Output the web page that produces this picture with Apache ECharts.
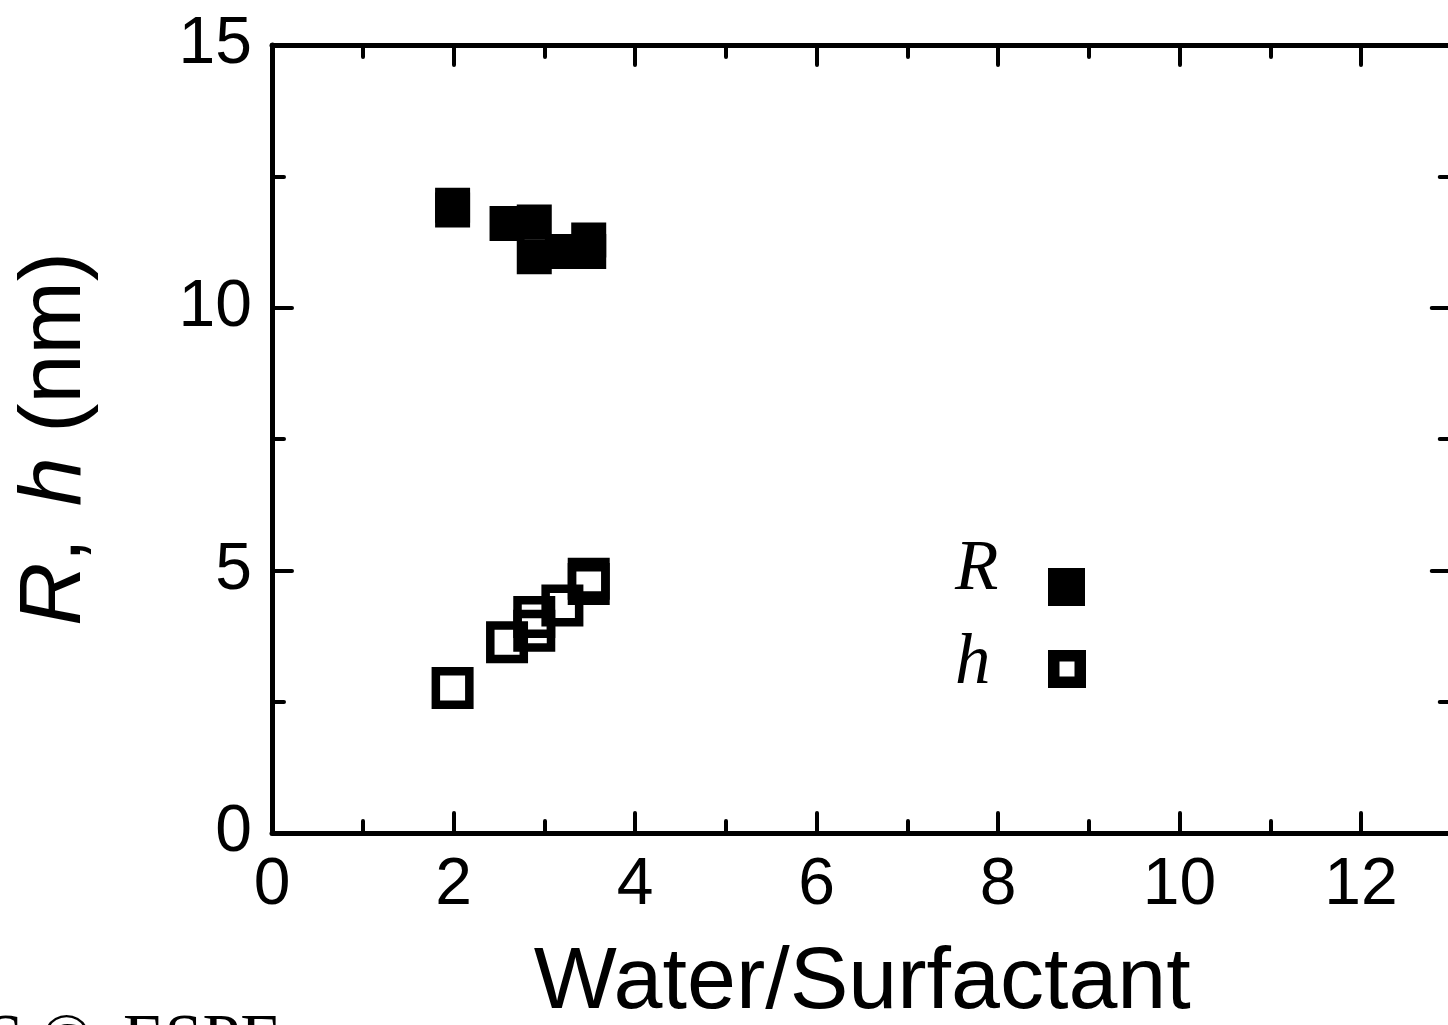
<!DOCTYPE html>
<html>
<head>
<meta charset="utf-8">
<script src="https://cdn.jsdelivr.net/npm/echarts@6/dist/echarts.min.js"></script>
<style>
html,body{margin:0;padding:0;background:#fff;}
#chart{width:1448px;height:1025px;}
</style>
</head>
<body>
<div id="chart"></div>
<script>
// Data
const xTicks = [0, 2, 4, 6, 8, 10, 12];
const yTicks = [0, 5, 10, 15];
const seriesNames = ['R', 'h'];
const R_data = [
  [1.99, 11.95], [1.99, 11.86], [2.59, 11.60], [2.89, 11.63],
  [2.89, 10.97], [3.20, 11.07], [3.49, 11.29], [3.49, 11.07]
];
const h_data = [
  [1.99, 2.76], [2.59, 3.63], [2.89, 4.11], [2.89, 3.85],
  [3.20, 4.33], [3.49, 4.84], [3.49, 4.74]
];
const xTitle = 'Water/Surfactant';
const footText = 'S \u00A9\u2009 ESPE';

const chart = echarts.init(document.getElementById('chart'), null, {renderer: 'canvas'});
const SANS = 'Liberation Sans, Arial, sans-serif';
const SERIF = 'Liberation Serif, Times New Roman, serif';

function axisCommon(showLabel) {
  return {
    axisLine: {show: true, onZero: false, lineStyle: {color: '#000', width: 5}},
    axisTick: {show: true, inside: true, length: 20, lineStyle: {color: '#000', width: 4, cap: 'round'}},
    minorTick: {show: true, splitNumber: 2, length: 12, lineStyle: {color: '#000', width: 4, cap: 'round'}},
    splitLine: {show: false},
    minorSplitLine: {show: false},
    axisLabel: {show: showLabel, color: '#000', fontSize: 66, fontFamily: SANS, margin: 20,
      formatter: function (v) { return xTicks.indexOf(v) >= 0 || yTicks.indexOf(v) >= 0 ? String(v) : ''; }}
  };
}

const option = {
  backgroundColor: '#fff',
  animation: false,
  grid: {left: 272, top: 45, width: 1270.5, height: 788, containLabel: false, outerBoundsMode: 'none'},
  xAxis: [
    Object.assign(axisCommon(true), {
      type: 'value', position: 'bottom', min: 0, max: 14, interval: 2,
      name: xTitle, nameLocation: 'middle', nameGap: 107,
      nameTextStyle: {fontSize: 88, fontFamily: SANS, color: '#000', padding: [0, 90, 0, 0]}
    }),
    Object.assign(axisCommon(false), {
      type: 'value', position: 'top', min: 0, max: 14, interval: 2
    })
  ],
  yAxis: [
    Object.assign(axisCommon(true), {
      type: 'value', position: 'left', min: 0, max: 15, interval: 5,
      name: '{i|R}{n|, \u200A}{i|h}{n| (nm)}', nameLocation: 'middle', nameGap: 172, nameRotate: 90,
      nameTextStyle: {
        color: '#000', fontSize: 88, fontFamily: SANS,
        rich: {
          i: {fontSize: 88, fontFamily: SANS, fontStyle: 'italic', color: '#000'},
          n: {fontSize: 88, fontFamily: SANS, color: '#000'}
        }
      }
    }),
    Object.assign(axisCommon(false), {
      type: 'value', position: 'right', offset: -90.75, min: 0, max: 15, interval: 5
    })
  ],
  series: [
    {
      name: seriesNames[0], type: 'scatter', xAxisIndex: 0, yAxisIndex: 0,
      symbol: 'rect', symbolSize: 35, data: R_data,
      itemStyle: {color: '#000', opacity: 1}
    },
    {
      name: seriesNames[1], type: 'scatter', xAxisIndex: 0, yAxisIndex: 0,
      symbol: 'rect', symbolSize: 33.5, data: h_data,
      itemStyle: {color: 'rgba(0,0,0,0)', borderColor: '#000', borderWidth: 8.5, opacity: 1}
    }
  ],
  graphic: [
    {type: 'text', left: 955, top: 535, style: {text: seriesNames[0], font: 'italic 71px ' + SERIF, fill: '#000'}},
    {type: 'rect', shape: {x: 1048, y: 568, width: 37, height: 38}, style: {fill: '#000'}},
    {type: 'text', left: 955, top: 629, style: {text: seriesNames[1], font: 'italic 71px ' + SERIF, fill: '#000'}},
    {type: 'rect', shape: {x: 1053.75, y: 655.75, width: 26.5, height: 26.5}, style: {fill: 'none', stroke: '#000', lineWidth: 11.5}},
    {type: 'text', left: -14, top: 1008, style: {text: footText, font: '68px ' + SERIF, fill: '#000'}}
  ]
};
chart.setOption(option);
</script>
</body>
</html>
